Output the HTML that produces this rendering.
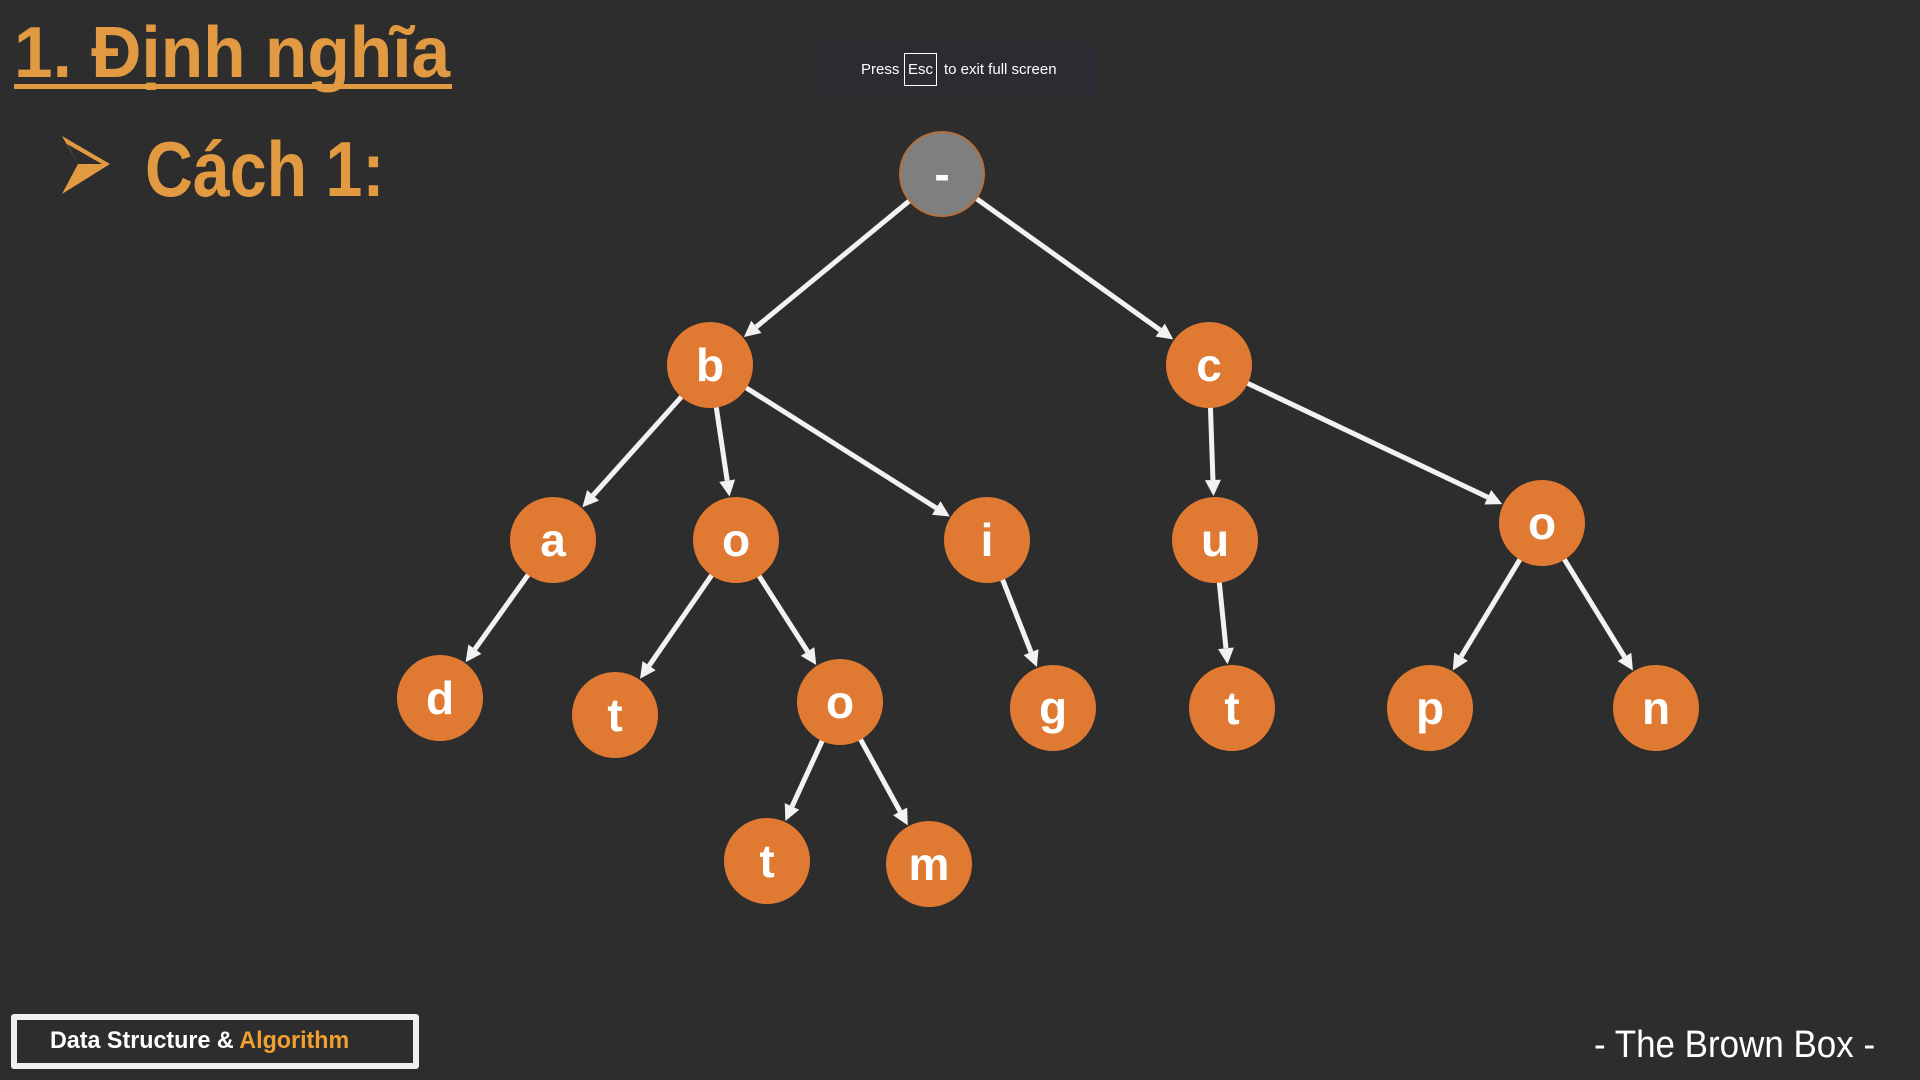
<!DOCTYPE html>
<html><head><meta charset="utf-8"><style>
html,body{margin:0;padding:0;background:#2d2d2d;width:1920px;height:1080px;overflow:hidden;font-family:"Liberation Sans",sans-serif}
.t{position:absolute;color:#e29a42;font-weight:bold;white-space:nowrap;transform-origin:0 0}
</style></head><body>
<div class="t" style="left:14px;top:12px;font-size:72px;transform:scaleX(0.965)">1. Định nghĩa</div>
<div style="position:absolute;left:14px;top:84px;width:438px;height:5px;background:#e29a42"></div>
<svg style="position:absolute;left:58px;top:134px" width="60" height="64"><polygon points="4,2 52,30 4,60 20,30" fill="#e29a42"/><polygon points="9,10 44,30 20,30" fill="#2d2d2d"/></svg>
<div class="t" style="left:145px;top:124px;font-size:78px;transform:scaleX(0.85)">Cách 1:</div>
<div style="position:absolute;left:820px;top:43px;width:276px;height:55px;background:#2a2c31"></div>
<div style="position:absolute;left:861px;top:61px;color:#fff;font-size:15px">Press</div>
<div style="position:absolute;left:904px;top:53px;width:33px;height:33px;border:1px solid #fff;box-sizing:border-box;color:#fff;font-size:15px;line-height:31px;text-align:center">Esc</div>
<div style="position:absolute;left:944px;top:61px;color:#fff;font-size:15px">to exit full screen</div>
<svg id="s" style="position:absolute;left:0;top:0" width="1920" height="1080"></svg>
<div style="position:absolute;left:11px;top:1014px;width:408px;height:55px;border:6px solid #f0f0f0;box-sizing:border-box;border-radius:3px"></div>
<div style="position:absolute;left:50px;top:1027px;font-size:24px;color:#fff;font-weight:bold;transform:scaleX(0.97);transform-origin:0 0;white-space:nowrap">Data Structure &amp; <span style="color:#f0a030">Algorithm</span></div>
<div style="position:absolute;left:1594px;top:1024px;font-size:38px;color:#fff;white-space:nowrap;transform:scaleX(0.92);transform-origin:0 0">- The Brown Box -</div>
<script>
var N={r:[942,174,'-'],b:[710,365,'b'],c:[1209,365,'c'],a:[553,540,'a'],o1:[736,540,'o'],i:[987,540,'i'],u:[1215,540,'u'],o2:[1542,523,'o'],d:[440,698,'d'],t1:[615,715,'t'],o3:[840,702,'o'],g:[1053,708,'g'],t2:[1232,708,'t'],p:[1430,708,'p'],n:[1656,708,'n'],t3:[767,861,'t'],m:[929,864,'m']};
var E=[['r','b'],['r','c'],['b','a'],['b','o1'],['b','i'],['c','u'],['c','o2'],['a','d'],['o1','t1'],['o1','o3'],['i','g'],['u','t2'],['o2','p'],['o2','n'],['o3','t3'],['o3','m']];
var R=42,h='';
E.forEach(function(e){var A=N[e[0]],B=N[e[1]],dx=B[0]-A[0],dy=B[1]-A[1],L=Math.hypot(dx,dy),ux=dx/L,uy=dy/L;
var x1=A[0]+ux*R,y1=A[1]+uy*R,x2=B[0]-ux*(R+2),y2=B[1]-uy*(R+2),hx=x2-ux*16,hy=y2-uy*16;
h+='<line x1="'+x1+'" y1="'+y1+'" x2="'+hx+'" y2="'+hy+'" stroke="#f2f2f2" stroke-width="5"/>';
h+='<polygon points="'+x2+','+y2+' '+(hx-uy*8)+','+(hy+ux*8)+' '+(hx+uy*8)+','+(hy-ux*8)+'" fill="#f2f2f2"/>';});
for(var k in N){var n=N[k];var g=k=='r';
h+='<circle cx="'+n[0]+'" cy="'+n[1]+'" r="'+R+'" fill="'+(g?'#7f7f7f':'#e07a32')+'" stroke="'+(g?'#b0703f':'#e07a32')+'" stroke-width="2"/>';
h+='<text x="'+n[0]+'" y="'+(n[1]+16)+'" text-anchor="middle" font-family="Liberation Sans,sans-serif" font-weight="bold" font-size="46" fill="#fff">'+n[2]+'</text>';}
document.getElementById('s').innerHTML=h;
</script>
</body></html>
